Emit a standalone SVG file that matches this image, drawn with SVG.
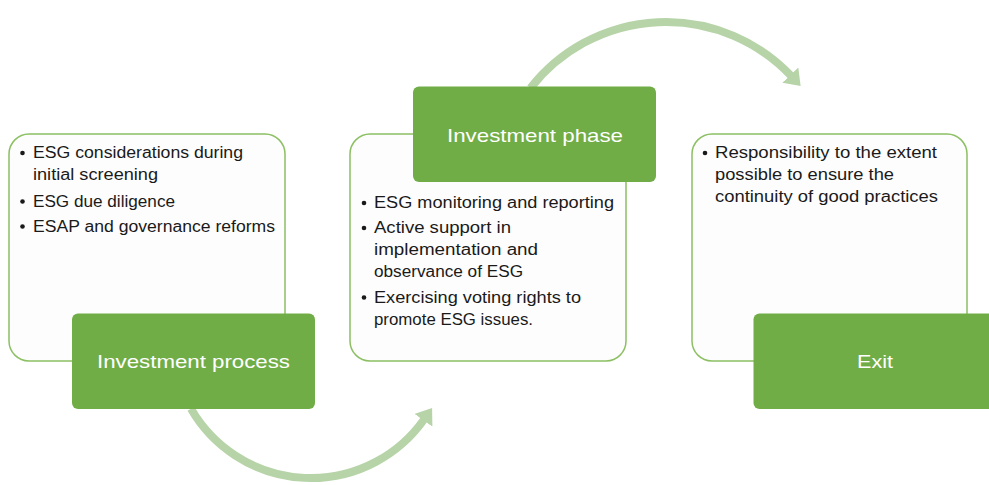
<svg xmlns="http://www.w3.org/2000/svg" width="989" height="485" viewBox="0 0 989 485">
<style>
.lt{fill:#fdfdfd;stroke:#8cc063;stroke-width:1.5}
.dk{fill:#70ad47;stroke:none}
.t{font-family:"Liberation Sans",Arial,sans-serif;font-size:16px;fill:#1a1a1a}
.h{font-family:"Liberation Sans",Arial,sans-serif;font-size:19px;fill:#ffffff;text-anchor:middle}
.b{fill:#1a1a1a}
.arc{fill:none;stroke:#b7d4a8;stroke-width:8}
</style>
<defs>
<marker id="ah" markerUnits="userSpaceOnUse" markerWidth="16" markerHeight="22" refX="1" refY="11" orient="auto">
<path d="M0,0 L15,11 L0,22 Z" fill="#b7d4a8"/>
</marker>
</defs>
<g id="connectors">
<path class="arc" d="M191,408.8 A138.5,138.5 0 0 0 424,419.5" marker-end="url(#ah)"/>
<path class="arc" d="M530.5,88 A172,172 0 0 1 791,75.8" marker-end="url(#ah)"/>
</g>
<g id="box-process">
<rect class="lt" x="9" y="134" width="276" height="227" rx="20"/>
<circle class="b" cx="22.5" cy="153" r="2.3"/>
<text class="t" x="33" y="158" textLength="210" lengthAdjust="spacingAndGlyphs">ESG considerations during</text>
<text class="t" x="33" y="180" textLength="125" lengthAdjust="spacingAndGlyphs">initial screening</text>
<circle class="b" cx="22.5" cy="201.5" r="2.3"/>
<text class="t" x="33" y="206.5" textLength="142" lengthAdjust="spacingAndGlyphs">ESG due diligence</text>
<circle class="b" cx="22.5" cy="226.5" r="2.3"/>
<text class="t" x="33" y="231.5" textLength="242" lengthAdjust="spacingAndGlyphs">ESAP and governance reforms</text>
</g>
<g id="label-process">
<rect class="dk" x="72" y="313.5" width="243" height="95.5" rx="6"/>
<text class="h" x="193.5" y="368" textLength="193" lengthAdjust="spacingAndGlyphs">Investment process</text>
</g>
<g id="box-phase">
<rect class="lt" x="350" y="134" width="276" height="227" rx="20"/>
<circle class="b" cx="364" cy="203" r="2.3"/>
<text class="t" x="374" y="208" textLength="240" lengthAdjust="spacingAndGlyphs">ESG monitoring and reporting</text>
<circle class="b" cx="364" cy="228" r="2.3"/>
<text class="t" x="374" y="233" textLength="137" lengthAdjust="spacingAndGlyphs">Active support in</text>
<text class="t" x="374" y="255" textLength="164" lengthAdjust="spacingAndGlyphs">implementation and</text>
<text class="t" x="374" y="277" textLength="149" lengthAdjust="spacingAndGlyphs">observance of ESG</text>
<circle class="b" cx="364" cy="297.5" r="2.3"/>
<text class="t" x="374" y="302.5" textLength="207" lengthAdjust="spacingAndGlyphs">Exercising voting rights to</text>
<text class="t" x="374" y="325" textLength="159" lengthAdjust="spacingAndGlyphs">promote ESG issues.</text>
</g>
<g id="label-phase">
<rect class="dk" x="413" y="86.5" width="243" height="95.5" rx="6"/>
<text class="h" x="535" y="141.5" textLength="176" lengthAdjust="spacingAndGlyphs">Investment phase</text>
</g>
<g id="box-exit">
<rect class="lt" x="692" y="134" width="275" height="227" rx="20"/>
<circle class="b" cx="705" cy="153" r="2.3"/>
<text class="t" x="715" y="158" textLength="222" lengthAdjust="spacingAndGlyphs">Responsibility to the extent</text>
<text class="t" x="715" y="180" textLength="179" lengthAdjust="spacingAndGlyphs">possible to ensure the</text>
<text class="t" x="715" y="202" textLength="223" lengthAdjust="spacingAndGlyphs">continuity of good practices</text>
</g>
<g id="label-exit">
<rect class="dk" x="753.5" y="313.5" width="243" height="95.5" rx="6"/>
<text class="h" x="875" y="368" textLength="36" lengthAdjust="spacingAndGlyphs">Exit</text>
</g>
</svg>
